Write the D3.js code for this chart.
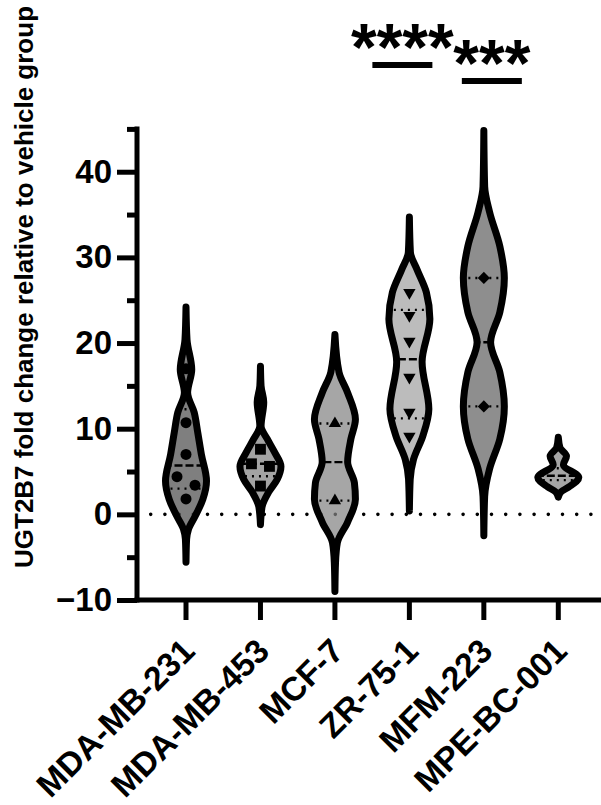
<!DOCTYPE html>
<html><head><meta charset="utf-8">
<script src="https://cdn.jsdelivr.net/npm/d3@7"></script>
<style>
body{margin:0;background:#fff}
svg{display:block}
text{font-family:"Liberation Sans",Arial,sans-serif;font-weight:bold;fill:#000}
</style>
</head><body>
<svg id="c" width="601" height="805"></svg>
<script>
// ---------- data ----------
const categories = ["MDA-MB-231","MDA-MB-453","MCF-7","ZR-75-1","MFM-223","MPE-BC-001"];
const valuesMDA231 = [17.0, 10.7, 7.0, 4.4, 3.4, 1.8];
const valuesMDA453 = [13.0, 7.6, 5.9, 5.6, 3.3];
const valuesMCF7   = [10.6, 1.6];
const valuesZR751  = [25.9, 23.2, 20.2, 16.0, 11.9, 9.1];
const valuesMFM223 = [27.6, 12.6];
const valuesMPE    = [6.8, 4.9, 4.6, 4.4, 4.1, 3.7];
// violin density profiles: [value, relative half-width]
const profileMDA231 = [[24.2,0],[20.4,0.05],[16.9,0.28],[14.2,0.08],[11.9,0.4],[9.6,0.57],[7.0,0.75],[3.9,1.0],[1.75,0.82],[-0.2,0.45],[-1.75,0.12],[-2.9,0.03],[-5.6,0]];
const profileMDA453 = [[17.3,0],[15.0,0.03],[13.1,0.16],[10.3,0.03],[8.8,0.33],[7.2,0.7],[5.6,1.0],[4.1,0.82],[2.6,0.4],[0.9,0.08],[-1.2,0]];
const profileMCF7   = [[21.0,0],[16.6,0.2],[14.2,0.62],[11.1,1.0],[8.8,0.78],[6.1,0.62],[3.7,0.95],[1.75,1.0],[-0.9,0.62],[-3.3,0.12],[-5.6,0.03],[-9.0,0]];
const profileZR751  = [[34.7,0],[30.6,0.05],[28.6,0.37],[25.9,0.83],[22.8,1.0],[17.8,0.62],[12.3,0.95],[9.1,0.65],[6.4,0.2],[4.1,0.04],[0.4,0]];
const profileMFM223 = [[44.8,0],[38.3,0.04],[35.3,0.28],[31.3,0.78],[27.6,1.0],[23.6,0.78],[20.1,0.33],[16.6,0.78],[12.6,1.0],[8.8,0.78],[5.3,0.28],[2.1,0.04],[-2.5,0]];
const profileMPE    = [[9.0,0],[7.8,0.08],[6.8,0.4],[5.8,0.25],[4.3,1.0],[3.2,0.52],[2.6,0.12],[2.0,0]];
const fillColors = ["#7f7f7f","#a3a3a3","#a6a6a6","#bcbcbc","#8e8e8e","#a6a6a6"];
const markerTypes = ["circle","square","triangle","triangleDown","diamond",null];
const yTicks = [-10,0,10,20,30,40];
const yMinorTicks = [-5,5,15,25,35,45];
const sigCategories = ["ZR-75-1","MFM-223"];
const sigLabels = ["****","***"];
const yTitle = "UGT2B7 fold change relative to vehicle group";

const groupValues = [valuesMDA231,valuesMDA453,valuesMCF7,valuesZR751,valuesMFM223,valuesMPE];
const groupProfiles = [profileMDA231,profileMDA453,profileMCF7,profileZR751,profileMFM223,profileMPE];

// ---------- layout ----------
const W = 601, H = 805;
const svg = d3.select("#c");
const x = d3.scalePoint().domain(categories).range([186, 558.3]);
const y = d3.scaleLinear().domain([-10, 45]).range([600, 128.9]);
const halfMax = 20.5;
const alpha = 0.72;
const axisX = 137, axisY = y(-10);

// zero reference line (dotted)
svg.append("line")
  .attr("x1", 150.7).attr("x2", W + 10)
  .attr("y1", y(0)).attr("y2", y(0))
  .attr("stroke", "#000").attr("stroke-width", 3.6)
  .attr("stroke-linecap", "round").attr("stroke-dasharray", "0 14.2");

const defs = svg.append("defs");

function quant(vals, p) {
  const s = vals.slice().sort((a, b) => a - b), n = s.length;
  const pos = (n + 1) * p;
  if (pos <= 1) return s[0];
  if (pos >= n) return s[n - 1];
  const lo = Math.floor(pos);
  return s[lo - 1] + (pos - lo) * (s[lo] - s[lo - 1]);
}

function markerPath(type) {
  if (type === "circle") return d3.symbol(d3.symbolCircle, 95)();
  if (type === "square") return d3.symbol(d3.symbolSquare, 118)();
  if (type === "triangle" || type === "triangleDown") return d3.symbol(d3.symbolTriangle, 66)();
  if (type === "diamond") return d3.symbol(d3.symbolSquare, 74)();
  return null;
}
function markerRot(type) {
  if (type === "triangleDown") return 180;
  if (type === "diamond") return 45;
  return 0;
}

categories.forEach((cat, i) => {
  const cx = x(cat);
  const prof = groupProfiles[i];
  const vals = groupValues[i];
  const area = d3.area()
    .y(d => y(d[0]))
    .x0(d => cx - halfMax * d[1])
    .x1(d => cx + halfMax * d[1])
    .curve(d3.curveMonotoneY);
  const dPath = area(prof);
  const g = svg.append("g");
  defs.append("clipPath").attr("id", "clip" + i).append("path").attr("d", dPath);

  // translucent grey fill (lets the dotted zero line show through faintly)
  const vis = d3.color(fillColors[i]).r;
  const c = Math.round((vis - (1 - alpha) * 255) / alpha);
  g.append("path").attr("d", dPath).attr("fill", d3.rgb(c, c, c)).attr("fill-opacity", alpha);

  // median (dashed) and quartiles (dotted)
  const lines = g.append("g").attr("clip-path", `url(#clip${i})`);
  [[0.5, "8 3"], [0.25, "2 5"], [0.75, "2 5"]].forEach(([p, dash]) => {
    const v = quant(vals, p);
    lines.append("line")
      .attr("x1", cx - halfMax - 2).attr("x2", cx + halfMax + 2)
      .attr("y1", y(v)).attr("y2", y(v))
      .attr("stroke", "#000").attr("stroke-width", 2.4)
      .attr("stroke-dasharray", dash);
  });

  // points, spread sideways when they overlap
  const type = markerTypes[i];
  if (type) {
    const sorted = vals.slice().sort((a, b) => b - a);
    const clusters = [];
    sorted.forEach(v => {
      const last = clusters[clusters.length - 1];
      if (last && Math.abs(y(last[last.length - 1]) - y(v)) < 11) last.push(v);
      else clusters.push([v]);
    });
    const mp = markerPath(type), rot = markerRot(type);
    clusters.forEach(cl => {
      cl.forEach((v, k) => {
        const off = (k - (cl.length - 1) / 2) * 18;
        g.append("path").attr("d", mp)
          .attr("transform", `translate(${cx + off},${y(v)}) rotate(${rot})`)
          .attr("fill", "#000");
      });
    });
  }

  g.append("path").attr("d", dPath).attr("fill", "none")
    .attr("stroke", "#000").attr("stroke-width", 7).attr("stroke-linejoin", "round");
});

// ---------- axes ----------
const yAxisMajor = d3.axisLeft(y).tickValues(yTicks).tickSize(20).tickPadding(5);
const gy = svg.append("g").attr("transform", `translate(${axisX},0)`).call(yAxisMajor);
gy.select(".domain").remove();
gy.selectAll(".tick line").attr("stroke", "#000").attr("stroke-width", 5);
gy.selectAll(".tick text").attr("font-size", 33).attr("font-family", '"Liberation Sans",Arial,sans-serif').attr("font-weight", "bold").attr("fill", "#000");

const yAxisMinor = d3.axisLeft(y).tickValues(yMinorTicks).tickSize(10).tickFormat("");
const gym = svg.append("g").attr("transform", `translate(${axisX},0)`).call(yAxisMinor);
gym.select(".domain").remove();
gym.selectAll(".tick line").attr("stroke", "#000").attr("stroke-width", 5);

svg.append("line").attr("x1", axisX).attr("x2", axisX)
  .attr("y1", y(45) - 2.5).attr("y2", axisY + 2.5)
  .attr("stroke", "#000").attr("stroke-width", 5);
svg.append("line").attr("x1", axisX - 2.5).attr("x2", W + 10)
  .attr("y1", axisY).attr("y2", axisY)
  .attr("stroke", "#000").attr("stroke-width", 5);

const gx = svg.append("g");
categories.forEach(cat => {
  const cx = x(cat);
  gx.append("line").attr("x1", cx).attr("x2", cx).attr("y1", axisY).attr("y2", axisY + 20)
    .attr("stroke", "#000").attr("stroke-width", 5);
  gx.append("text")
    .attr("transform", `translate(${cx + 10.7},${axisY + 53}) rotate(-45)`)
    .attr("text-anchor", "end").attr("font-size", 33.5)
    .text(cat);
});

// y title
svg.append("text")
  .attr("transform", `translate(33,287) rotate(-90)`)
  .attr("text-anchor", "middle").attr("font-size", 26)
  .text(yTitle);

// ---------- significance ----------
const sigDx = [-7, 8];
const sigBarY = [65, 81];
const sigTextY = [70, 86];
sigCategories.forEach((cat, i) => {
  const cx = x(cat) + sigDx[i];
  svg.append("line").attr("x1", cx - 30).attr("x2", cx + 30)
    .attr("y1", sigBarY[i]).attr("y2", sigBarY[i])
    .attr("stroke", "#000").attr("stroke-width", 6);
  svg.append("text").attr("x", cx).attr("y", sigTextY[i])
    .attr("text-anchor", "middle").attr("font-size", 66)
    .text(sigLabels[i]);
});
</script>
</body></html>
